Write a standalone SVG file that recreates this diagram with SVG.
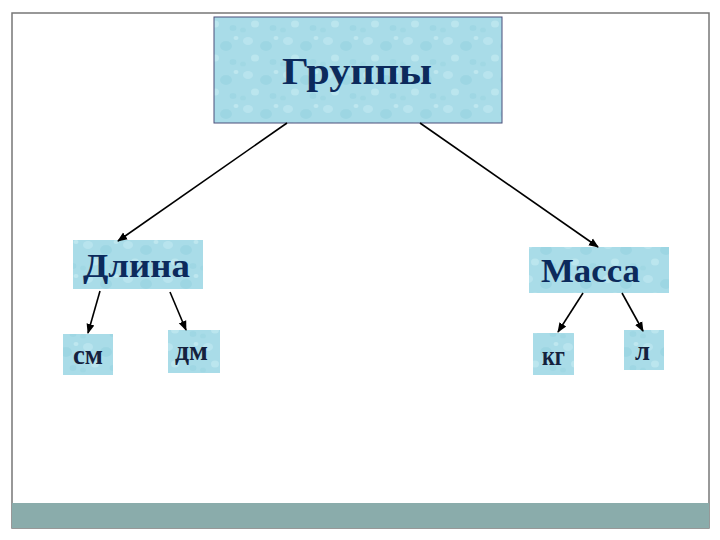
<svg xmlns="http://www.w3.org/2000/svg" width="720" height="540" viewBox="0 0 720 540">
<defs>
<pattern id="drops" width="40" height="34" patternUnits="userSpaceOnUse">
<rect width="40" height="34" fill="#a9dce8"/>
<ellipse cx="8" cy="7" rx="5" ry="4" fill="#c0e8f1" opacity="0.7"/>
<ellipse cx="26" cy="12" rx="6" ry="5" fill="#92cfde" opacity="0.5"/>
<ellipse cx="15" cy="24" rx="4" ry="3.5" fill="#c4eaf2" opacity="0.7"/>
<ellipse cx="33" cy="28" rx="3.5" ry="3" fill="#96d1df" opacity="0.5"/>
<ellipse cx="3" cy="30" rx="3" ry="2.5" fill="#96d1df" opacity="0.4"/>
<ellipse cx="36" cy="4" rx="2.5" ry="2" fill="#c8ecf3" opacity="0.7"/>
</pattern>
<marker id="arr" viewBox="0 0 10 10" refX="9" refY="5" markerWidth="10" markerHeight="10" orient="auto" markerUnits="userSpaceOnUse">
<path d="M0,1 L10,5 L0,9 z" fill="#000"/>
</marker>
</defs>
<style>
.box{fill:url(#drops);}
.lbl{font-family:"Liberation Serif","Times New Roman",serif;font-weight:bold;fill:#0c2a5c;}
.sm{font-family:"Liberation Serif","Times New Roman",serif;font-weight:bold;fill:#14213d;}
.conn line{stroke:#000;stroke-width:1.6;marker-end:url(#arr);}
</style>
<rect x="0" y="0" width="720" height="540" fill="#fff"/>
<g id="frame">
<rect x="12" y="13" width="697" height="515" fill="none" stroke="#777" stroke-width="1.5"/>
<rect x="12" y="503" width="697" height="25" fill="#8aacab"/>
</g>
<g id="groups">
<rect class="box" x="214" y="17" width="288" height="106" stroke="#4a4f7a" stroke-width="1"/>
<text class="lbl" x="282" y="84" font-size="38" textLength="150" lengthAdjust="spacingAndGlyphs">Группы</text>
</g>
<g id="length">
<rect class="box" x="73" y="240" width="130" height="49"/>
<text class="lbl" x="83" y="277" font-size="33" textLength="107" lengthAdjust="spacingAndGlyphs">Длина</text>
</g>
<g id="mass">
<rect class="box" x="529" y="247" width="140" height="46"/>
<text class="lbl" x="541" y="282" font-size="33" textLength="99" lengthAdjust="spacingAndGlyphs">Масса</text>
</g>
<g id="cm">
<rect class="box" x="63" y="334" width="50" height="41"/>
<text class="sm" x="73" y="364" font-size="27" textLength="30" lengthAdjust="spacingAndGlyphs">см</text>
</g>
<g id="dm">
<rect class="box" x="168" y="330" width="52" height="43"/>
<text class="sm" x="175" y="360" font-size="27" textLength="33" lengthAdjust="spacingAndGlyphs">дм</text>
</g>
<g id="kg">
<rect class="box" x="533" y="333" width="41" height="42"/>
<text class="sm" x="542" y="365" font-size="27" textLength="23" lengthAdjust="spacingAndGlyphs">кг</text>
</g>
<g id="l">
<rect class="box" x="624" y="330" width="40" height="40"/>
<text class="sm" x="635" y="360" font-size="27" textLength="15" lengthAdjust="spacingAndGlyphs">л</text>
</g>
<g class="conn" id="connectors">
<line x1="287" y1="123" x2="118" y2="241"/>
<line x1="420" y1="123" x2="598" y2="247"/>
<line x1="100" y1="291" x2="88" y2="333"/>
<line x1="170" y1="292" x2="186" y2="330"/>
<line x1="583" y1="293" x2="558" y2="332"/>
<line x1="622" y1="293" x2="643" y2="331"/>
</g>
</svg>
